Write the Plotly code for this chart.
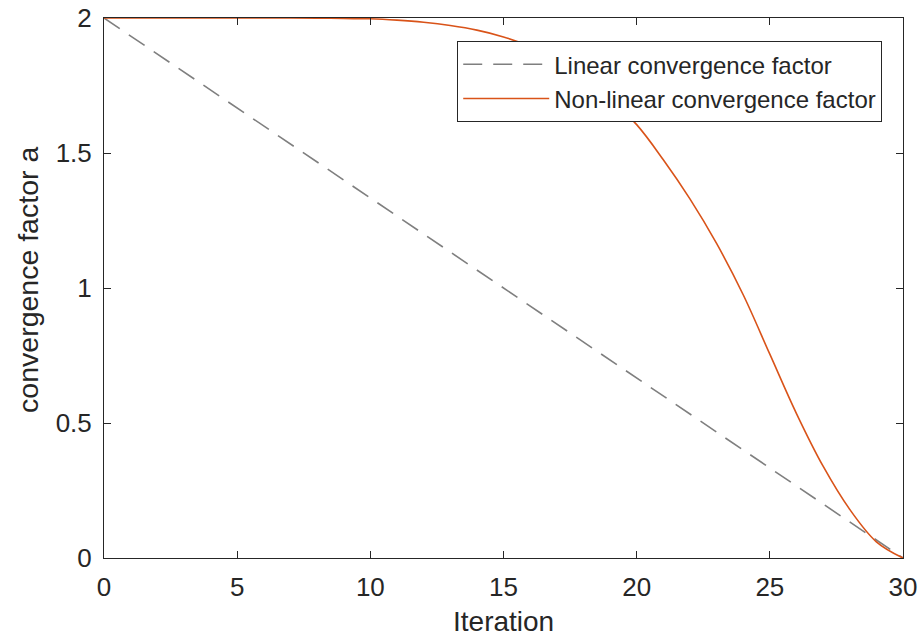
import plotly.graph_objects as go

# Data
iterations = list(range(0, 31))
nonlinear_a = [2.0, 2.0, 2.0, 2.0, 2.0, 2.0, 2.0, 2.0, 1.9995, 1.998,
               1.997, 1.992, 1.984, 1.972, 1.955, 1.93, 1.895, 1.85, 1.79, 1.70,
               1.605, 1.475, 1.33, 1.165, 0.975, 0.755, 0.535, 0.34, 0.18, 0.06,
               0.0]
linear_x = [0, 30]
linear_a = [2.0, 0.0]

x_ticks = [0, 5, 10, 15, 20, 25, 30]
y_ticks = [0, 0.5, 1, 1.5, 2]
y_ticklabels = ["0", "0.5", "1", "1.5", "2"]

FONT = "Liberation Sans, Arial, sans-serif"
AX = "#262626"

fig = go.Figure()
fig.add_trace(go.Scatter(
    x=linear_x, y=linear_a, mode="lines", name="Linear convergence factor",
    line=dict(color="#7f7f7f", width=1.6, dash="19px,11px"),
))
fig.add_trace(go.Scatter(
    x=iterations, y=nonlinear_a, mode="lines", name="Non-linear convergence factor",
    line=dict(color="#D95319", width=1.6, shape="spline", smoothing=1.0),
))

axis_common = dict(
    showgrid=False, zeroline=False, showline=True, linecolor=AX, linewidth=1,
    mirror="ticks", ticks="inside", ticklen=7, tickcolor=AX, tickwidth=1,
    tickfont=dict(family=FONT, size=26, color=AX), automargin=False,
)

fig.update_layout(
    width=922, height=642,
    margin=dict(l=104, r=19, t=18, b=84),
    paper_bgcolor="white", plot_bgcolor="white",
    font=dict(family=FONT, color=AX),
    xaxis=dict(range=[0, 30], tickvals=x_ticks, ticklabelstandoff=6, **axis_common),
    yaxis=dict(range=[0, 2], tickvals=y_ticks, ticktext=y_ticklabels,
               ticklabelstandoff=6, **axis_common),
    legend=dict(
        x=0.974, y=0.957, xanchor="right", yanchor="top",
        bgcolor="white", bordercolor="#262626", borderwidth=1,
        font=dict(family=FONT, size=24, color=AX),
        itemwidth=86, tracegroupgap=0,
    ),
    showlegend=True,
    annotations=[
        dict(text="Iteration", xref="paper", yref="paper", x=0.5, y=-0.1185,
             xanchor="center", yanchor="middle", showarrow=False,
             font=dict(family=FONT, size=28, color=AX)),
        dict(text="convergence factor a", xref="paper", yref="paper", x=-0.0951, y=0.515,
             xanchor="center", yanchor="middle", textangle=-90, showarrow=False,
             font=dict(family=FONT, size=28.5, color=AX)),
    ],
)

fig.write_html("out.html")
